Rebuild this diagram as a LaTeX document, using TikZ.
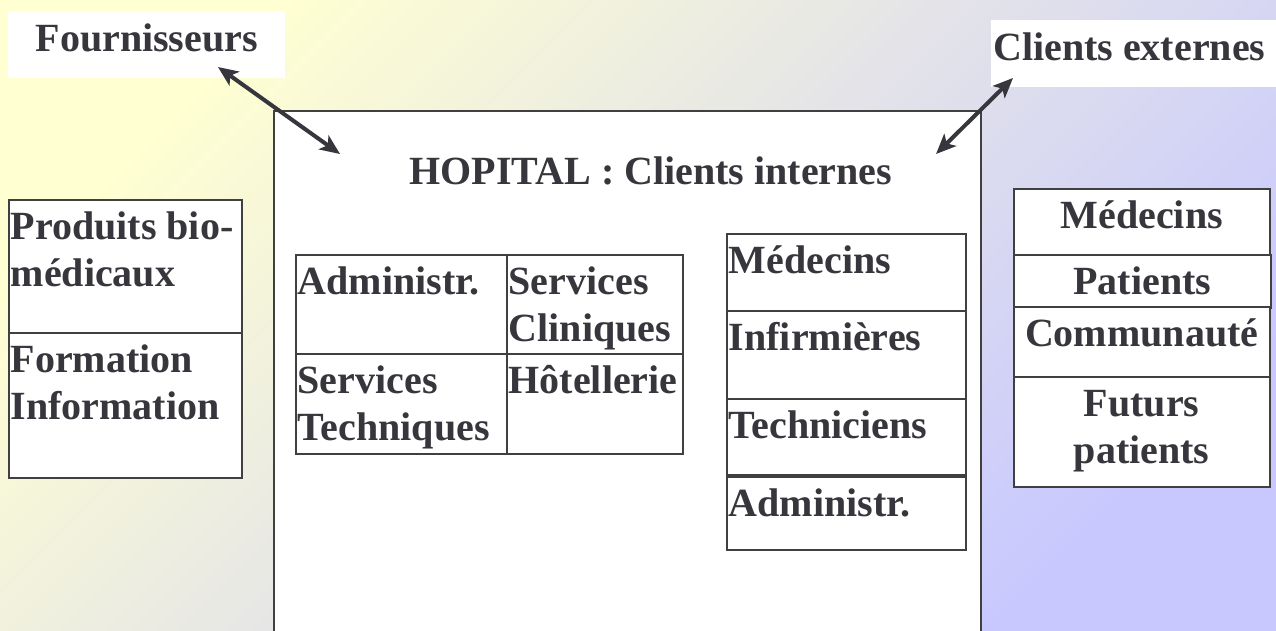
\documentclass[tikz,border=0pt]{standalone}
\usepackage{fontspec}
\setmainfont{Liberation Serif}
\usetikzlibrary{arrows.meta}

\definecolor{bgyellow}{RGB}{255,255,210}
\definecolor{bglavender}{RGB}{200,200,255}
\definecolor{inkgrey}{RGB}{54,54,60}
\definecolor{linegrey}{RGB}{64,64,64}

% text set at the top of a box of fixed size
\newcommand{\celltext}[3]{\parbox[t][#2][t]{#1}{\raggedright\rule{0pt}{40pt}#3}}
\newcommand{\celltextc}[3]{\parbox[t][#2][t]{#1}{\centering\rule{0pt}{40pt}#3}}

\begin{document}
\begin{tikzpicture}[
    x=1pt, y=-1pt,
    bigfont/.style = {font=\fontsize{40}{47}\selectfont\bfseries, text=inkgrey},
    cell/.style = {bigfont, draw=linegrey, line width=1.5pt, fill=white, anchor=north west, inner xsep=2pt, inner ysep=0pt},
    tag/.style = {bigfont, fill=white, anchor=north west, inner xsep=2pt, inner ysep=0pt},
    arrow/.style = {line width=4pt, draw=inkgrey, {Stealth[length=20pt, width=17pt, inset=5pt]}-{Stealth[length=20pt, width=17pt, inset=5pt]}}
  ]

  \useasboundingbox (0,0) rectangle (1276,630);
  \shade[top color=bgyellow, bottom color=bglavender, shading angle=45] (0,0) rectangle (1276,630);

  % Hospital
  \node[cell, minimum width=707pt, minimum height=530pt] (hopital) at (273,110) {};
  \node[bigfont, anchor=base] (hoptitle) at (651,184) {HOPITAL : Clients internes};

  % Outside partners
  \node[tag] (fourn) at (8,11) {\celltextc{273pt}{67pt}{Fournisseurs}};
  \node[tag] (clients) at (991,20) {\celltext{281pt}{67pt}{Clients externes}};

  % Left column
  \node[cell] (prod) at (8,199) {\celltext{229pt}{133pt}{Produits bio-\\médicaux}};
  \node[cell] (form) at (8,332) {\celltext{229pt}{145pt}{Formation\\Information}};

  % Services grid
  \node[cell] (admin) at (295,254) {\celltext{207pt}{99pt}{Administr.}};
  \node[cell] (clin) at (506,254) {\celltext{172pt}{99pt}{Services\\Cliniques}};
  \node[cell] (techserv) at (295,353) {\celltext{207pt}{100pt}{Services\\Techniques}};
  \node[cell] (hotel) at (506,353) {\celltext{172pt}{100pt}{Hôtellerie}};

  % Internal clients
  \node[cell] (imed) at (726,233) {\celltext{235pt}{77pt}{Médecins}};
  \node[cell] (inf) at (726,310) {\celltext{235pt}{88pt}{Infirmières}};
  \node[cell] (techn) at (726,398) {\celltext{235pt}{76pt}{Techniciens}};
  \node[cell] (iadm) at (726,476) {\celltext{235pt}{73pt}{Administr.}};

  % External clients
  \node[cell] (emed) at (1013,188) {\celltextc{252pt}{66pt}{Médecins}};
  \node[cell] (pat) at (1013,254) {\celltextc{253pt}{53pt}{Patients}};
  \node[cell] (comm) at (1013,306) {\celltextc{252pt}{70pt}{Communauté}};
  \node[cell] (fut) at (1013,376) {\celltextc{252pt}{110pt}{Futurs\\patients}};

  % Links
  \coordinate (fourntip) at (218,67);
  \coordinate (hopleft) at (340,154);
  \coordinate (clienttip) at (1013,78);
  \coordinate (hopright) at (936,154);
  \draw[arrow] (fourntip) -- (hopleft);
  \draw[arrow] (clienttip) -- (hopright);

\end{tikzpicture}
\end{document}
